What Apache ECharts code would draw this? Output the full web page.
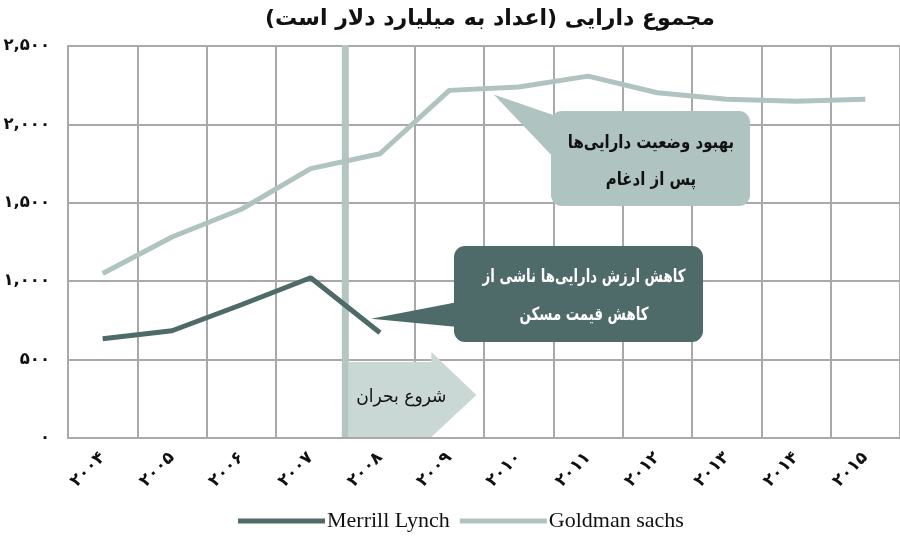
<!DOCTYPE html>
<html><head><meta charset="utf-8">
<script src="https://cdn.jsdelivr.net/npm/echarts@6/dist/echarts.min.js"></script>
<style>html,body{margin:0;padding:0;background:#fff}#c{width:900px;height:537px}</style>
</head><body><div id="c"></div>
<script>
// ---- data ----
const years = ['۲۰۰۴','۲۰۰۵','۲۰۰۶','۲۰۰۷','۲۰۰۸','۲۰۰۹','۲۰۱۰','۲۰۱۱','۲۰۱۲','۲۰۱۳','۲۰۱۴','۲۰۱۵'];
const merrillLynch = [633, 684, 850, 1022, 671];
const goldmanSachs = [1049, 1282, 1459, 1718, 1813, 2217, 2238, 2308, 2202, 2161, 2148, 2160];
const yTickLabels = ['۰','۵۰۰','۱,۰۰۰','۱,۵۰۰','۲,۰۰۰','۲,۵۰۰'];
const crisisStart = [4]; // boundary between 2007 and 2008 (in category units)
const titleText = 'مجموع دارایی (اعداد به میلیارد دلار است)';
const crisisLabel = 'شروع بحران';
const noteMerrill = ['کاهش ارزش دارایی‌ها ناشی از', 'کاهش قیمت مسکن'];
const noteGoldman = ['بهبود وضعیت دارایی‌ها', 'پس از ادغام'];
const seriesNames = ['Merrill Lynch', 'Goldman sachs'];

const DARK = '#4e6a69', LIGHT = '#afc3c0', GRID = '#a9a9a9';
const FA = 'DejaVu Sans';

const chart = echarts.init(document.getElementById('c'), null, {renderer: 'canvas'});
chart.setOption({
  animation: false,
  backgroundColor: '#fff',
  title: {
    text: titleText, left: 485, top: 3, textAlign: 'center',
    textStyle: {fontFamily: FA, fontWeight: 'bold', fontSize: 22, color: '#111'}
  },
  legend: {
    bottom: 0, left: 233, itemGap: 10, itemWidth: 87, itemHeight: 5, icon: 'rect',
    data: seriesNames,
    textStyle: {fontFamily: 'Liberation Serif', fontSize: 22, color: '#111', padding: [0,0,0,-3]}
  },
  grid: {left: 68, right: -5, top: 46, bottom: 99},
  xAxis: [{
    type: 'category', data: years, boundaryGap: true,
    axisLine: {lineStyle: {color: GRID, width: 2}},
    axisTick: {show: false},
    splitLine: {show: true, interval: 0, lineStyle: {color: GRID, width: 2}},
    axisLabel: {rotate: 45, margin: 17, fontFamily: FA, fontWeight: 'bold', fontSize: 17, color: '#111',
      interval: 0, padding: [0, 0, 0, 0]}
  }, {
    type: 'value', min: 0, max: years.length, show: false
  }],
  yAxis: {
    type: 'value', min: 0, max: 2500, interval: 500,
    axisLine: {show: true, lineStyle: {color: GRID, width: 2}},
    axisTick: {show: false},
    splitLine: {lineStyle: {color: GRID, width: 2}},
    axisLabel: {margin: 18, fontFamily: FA, fontWeight: 'bold', fontSize: 16.5, color: '#111',
      formatter: v => yTickLabels[Math.round(v / 500)]}
  },
  series: [
    {
      type: 'custom', xAxisIndex: 1, yAxisIndex: 0, z: 1, silent: true,
      data: crisisStart.map(v => [v]),
      renderItem: (params, api) => {
        const x = api.value(0);
        const top = api.coord([x, 2500]);
        const bot = api.coord([x, 0]);
        const bx = bot[0], by = bot[1];
        return {type: 'group', children: [
          {type: 'rect', shape: {x: bx - 3.5, y: top[1] - 1, width: 7, height: by - top[1]},
           style: {fill: '#b4c5c2'}},
          {type: 'polygon', shape: {points: [[bx + 3, by - 76], [bx + 86, by - 76], [bx + 86, by - 86],
            [bx + 131, by - 43], [bx + 86, by - 1], [bx + 3, by - 1]]}, style: {fill: '#c9d8d5'}},
          {type: 'text', x: bx + 56, y: by - 41, scaleX: 0.95,
           style: {text: crisisLabel, x: 0, y: 0, textAlign: 'center',
            textVerticalAlign: 'middle', font: '18px ' + FA, fill: '#111'}}
        ]};
      }
    },
    {
      name: seriesNames[0], type: 'line', data: merrillLynch, z: 3, symbol: 'none',
      itemStyle: {color: DARK}, lineStyle: {color: DARK, width: 5, cap: 'butt'}
    },
    {
      name: seriesNames[1], type: 'line', data: goldmanSachs, z: 3, symbol: 'none',
      itemStyle: {color: LIGHT}, lineStyle: {color: LIGHT, width: 5, cap: 'butt'}
    }
  ]
});

// annotations anchored to chart coordinates
const tipM = chart.convertToPixel({xAxisIndex: 1, yAxisIndex: 0}, [4.37, 761]);
const tipG = chart.convertToPixel({xAxisIndex: 1, yAxisIndex: 0}, [6.14, 2190]);
const txt = (s, x, y, fill, sx) => ({type: 'text', z: 10, x, y, scaleX: sx,
  style: {text: s, x: 0, y: 0, textAlign: 'center', textVerticalAlign: 'middle', font: 'bold 18px ' + FA, fill}});
chart.setOption({graphic: [
  {type: 'polygon', z: 9, shape: {points: [tipM, [458, 302], [458, 327]]}, style: {fill: DARK}},
  {type: 'rect', z: 9, shape: {x: 454, y: 246, width: 249, height: 96, r: 11}, style: {fill: DARK}},
  txt(noteMerrill[0], 584, 277, '#fff', 0.74),
  txt(noteMerrill[1], 584, 315, '#fff', 0.74),
  {type: 'polygon', z: 9, shape: {points: [tipG, [556, 116], [556, 160]]}, style: {fill: LIGHT}},
  {type: 'rect', z: 9, shape: {x: 551, y: 111, width: 199, height: 95, r: 11}, style: {fill: LIGHT}},
  txt(noteGoldman[0], 651, 143, '#111', 0.83),
  txt(noteGoldman[1], 651, 180, '#111', 0.83)
]});
</script>
</body></html>
